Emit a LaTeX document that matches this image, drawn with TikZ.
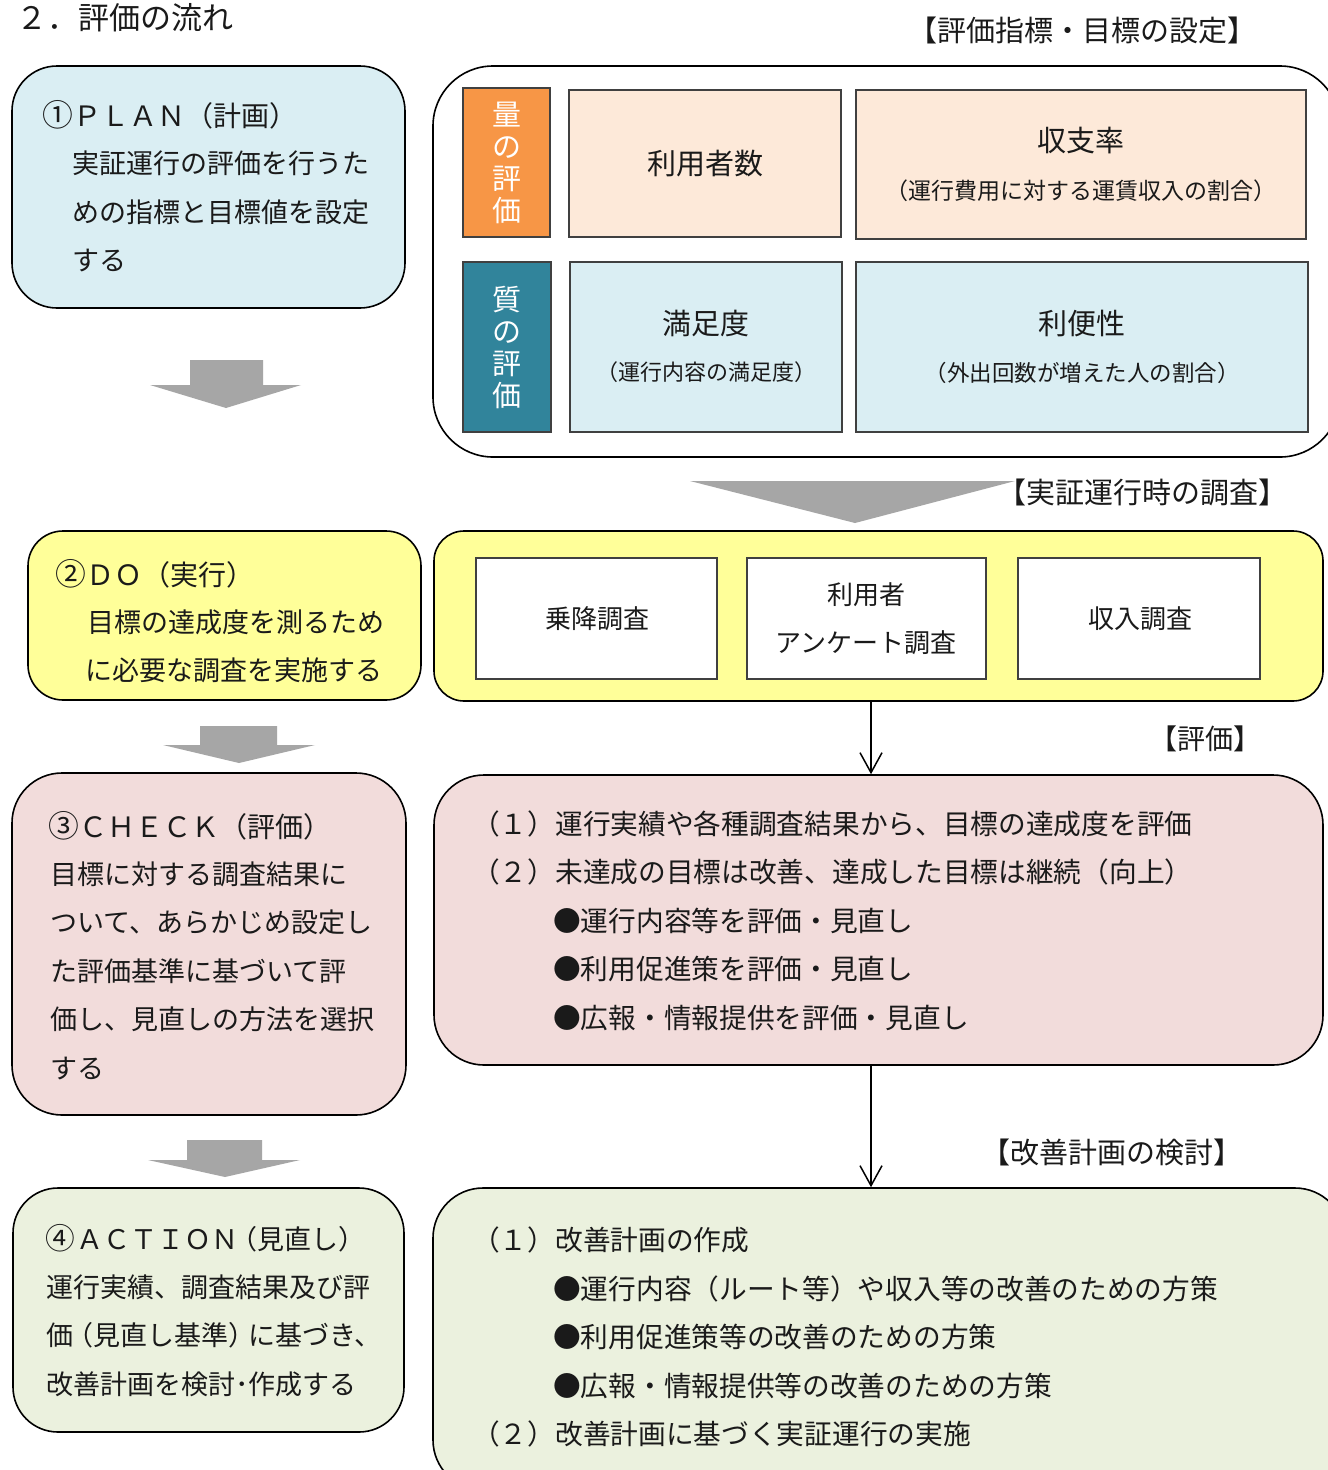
\documentclass[tikz,border=0pt]{standalone}
\usepackage{fontspec}
\usepackage{graphicx}
\setmainfont{Noto Sans CJK JP}
\usetikzlibrary{arrows.meta}
\newcommand\fsz[1]{\fontsize{#1}{#1}\selectfont}
\newcommand\circnum[1]{\makebox[31.5pt][l]{\scalebox{1.1}{#1}}}
\definecolor{cblue}{HTML}{DAEEF3}
\definecolor{cyel}{HTML}{FFFF99}
\definecolor{cpink}{HTML}{F2DCDB}
\definecolor{cgreen}{HTML}{EBF1DE}
\definecolor{cpeach}{HTML}{FDE9D9}
\definecolor{corange}{HTML}{F79646}
\definecolor{cteal}{HTML}{31849B}
\definecolor{cgray}{HTML}{A6A6A6}
\definecolor{ctext}{HTML}{1A1A1A}
\tikzset{
  rbox/.style={draw=black, line width=1.6pt, rounded corners=#1, inner sep=0pt},
  ibox/.style={draw=black!75, line width=1.4pt, inner sep=0pt},
  txt/.style={anchor=base west, inner sep=0pt, text=ctext, font=\fsz{27}},
  ctxt/.style={anchor=base, inner sep=0pt, text=ctext, font=\fsz{26}},
  vtxt/.style={inner sep=0pt, text=white, align=center, font=\fontsize{29}{32}\selectfont},
  blockarrow/.style={fill=cgray, draw=none},
  conn/.style={draw=black, line width=1.5pt, -{Straight Barb[length=20pt,width=22pt]}}
}
\begin{document}
\begin{tikzpicture}[x=1pt,y=-1pt]
\useasboundingbox (0,0) rectangle (1328,1470);
\clip (0,0) rectangle (1328,1470);
\fill[white] (0,0) rectangle (1328,1470);

% title
\node[txt, font=\fsz{31}] (title) at (16,29) {２．評価の流れ};

% PLAN
\node[rbox=45pt, fill=cblue, minimum width=393pt, minimum height=242pt] (plan) at (208.5,187) {};
\node[txt, font=\fsz{28}] (planh) at (42,126) {\circnum{①}ＰＬＡＮ（計画）};
\node[txt] (plan1) at (72,173) {実証運行の評価を行うた};
\node[txt] (plan2) at (72,222) {めの指標と目標値を設定};
\node[txt] (plan3) at (72,270) {する};

% block arrow 1
\fill[blockarrow] (190,360) -- (263,360) -- (263,385) -- (301,385) -- (226,408) -- (150,385) -- (190,385) -- cycle;

% indicator area
\node[ctxt, font=\fsz{29}] (lblset) at (1082,41) {【評価指標・目標の設定】};
\node[rbox=60pt, fill=white, minimum width=907pt, minimum height=391pt] (setbox) at (886.5,261.5) {};
\node[ibox, fill=corange, minimum width=87pt, minimum height=149pt] (ryo) at (506.5,162.5) {};
\node[vtxt] (ryot) at (506.5,162.5) {量\\の\\評\\価};
\node[ibox, fill=cteal, minimum width=88pt, minimum height=170pt] (shitsu) at (507,347) {};
\node[vtxt] (shitsut) at (507,347) {質\\の\\評\\価};
\node[ibox, fill=cpeach, minimum width=272pt, minimum height=147pt] (riyosha) at (705,163.5) {};
\node[ctxt, font=\fsz{29}] (riyoshat) at (705,174) {利用者数};
\node[ibox, fill=cpeach, minimum width=450pt, minimum height=149pt] (shushi) at (1081,164.5) {};
\node[ctxt, font=\fsz{29}] (shushit) at (1081,151) {収支率};
\node[ctxt, font=\fsz{23}] (shushis) at (1081,199) {（運行費用に対する運賃収入の割合）};
\node[ibox, fill=cblue, minimum width=272pt, minimum height=170pt] (manzoku) at (706,347) {};
\node[ctxt, font=\fsz{29}] (manzokut) at (706,334) {満足度};
\node[ctxt, font=\fsz{22}] (manzokus) at (706,380) {（運行内容の満足度）};
\node[ibox, fill=cblue, minimum width=452pt, minimum height=170pt] (benri) at (1082,347) {};
\node[ctxt, font=\fsz{29}] (benrit) at (1082,334) {利便性};
\node[ctxt, font=\fsz{22.5}] (benris) at (1082,381) {（外出回数が増えた人の割合）};

% block arrow 2
\fill[blockarrow] (690,481) -- (1015,481) -- (855,523) -- cycle;
\node[ctxt, font=\fsz{29}] (lblsurvey) at (1142,503) {【実証運行時の調査】};

% DO
\node[rbox=35pt, fill=cyel, minimum width=393pt, minimum height=169pt] (do) at (224.5,615.5) {};
\node[txt, font=\fsz{28}] (doh) at (55,585) {\circnum{②}ＤＯ（実行）};
\node[txt] (do1) at (87,632) {目標の達成度を測るため};
\node[txt] (do2) at (85,680) {に必要な調査を実施する};

\node[rbox=30pt, fill=cyel, minimum width=889pt, minimum height=170pt] (survey) at (878.5,616) {};
\node[ibox, fill=white, minimum width=241pt, minimum height=121pt] (jokou) at (596.5,618.5) {};
\node[ctxt] (jokout) at (597,628) {乗降調査};
\node[ibox, fill=white, minimum width=239pt, minimum height=121pt] (enq) at (866.5,618.5) {};
\node[ctxt] (enqt1) at (866,604) {利用者};
\node[ctxt] (enqt2) at (866,652) {アンケート調査};
\node[ibox, fill=white, minimum width=242pt, minimum height=121pt] (shunyu) at (1139,618.5) {};
\node[ctxt] (shunyut) at (1140,628) {収入調査};

% block arrow 3
\fill[blockarrow] (200,726) -- (277,726) -- (277,745) -- (315,745) -- (239,763) -- (163,745) -- (200,745) -- cycle;

% CHECK
\node[rbox=50pt, fill=cpink, minimum width=394pt, minimum height=342pt] (check) at (209,944) {};
\node[txt, font=\fsz{28}] (checkh) at (48,837) {\circnum{③}ＣＨＥＣＫ（評価）};
\node[txt] (check1) at (50,884) {目標に対する調査結果に};
\node[txt] (check2) at (50,932) {ついて、あらかじめ設定し};
\node[txt] (check3) at (50,981) {た評価基準に基づいて評};
\node[txt] (check4) at (50,1029) {価し、見直しの方法を選択};
\node[txt] (check5) at (50,1078) {する};

\node[rbox=50pt, fill=cpink, minimum width=889pt, minimum height=290pt] (evalbox) at (878.5,920) {};
\node[txt, font=\fsz{27.7}] (ev1) at (472,834) {（１）運行実績や各種調査結果から、目標の達成度を評価};
\node[txt, font=\fsz{27.7}] (ev2) at (472,882) {（２）未達成の目標は改善、達成した目標は継続（向上）};
\node[txt, font=\fsz{27.7}] (ev3) at (553,931) {●運行内容等を評価・見直し};
\node[txt, font=\fsz{27.7}] (ev4) at (553,979) {●利用促進策を評価・見直し};
\node[txt, font=\fsz{27.7}] (ev5) at (553,1028) {●広報・情報提供を評価・見直し};

% block arrow 4
\fill[blockarrow] (187,1140) -- (262,1140) -- (262,1160) -- (300,1160) -- (225,1177) -- (148,1160) -- (187,1160) -- cycle;

% ACTION
\node[rbox=45pt, fill=cgreen, minimum width=391pt, minimum height=244pt] (action) at (208.5,1310) {};
\node[txt, font=\fsz{27}] (actionh) at (45,1249) {\circnum{④}ＡＣＴＩＯＮ\kern-8pt（見直し）};
\node[txt] (action1) at (46,1297) {運行実績、調査結果及び評};
\node[txt] (action2) at (46,1345) {価\kern-7pt（見直し基準）\kern-7pt に基づき、};
\node[txt] (action3) at (46,1394) {改善計画を検討･作成する};

\node[rbox=50pt, fill=cgreen, minimum width=912pt, minimum height=302pt] (impbox) at (889,1339) {};
\node[txt, font=\fsz{27.7}] (im1) at (472,1250) {（１）改善計画の作成};
\node[txt, font=\fsz{27.7}] (im2) at (553,1299) {●運行内容（ルート等）や収入等の改善のための方策};
\node[txt, font=\fsz{27.7}] (im3) at (553,1347) {●利用促進策等の改善のための方策};
\node[txt, font=\fsz{27.7}] (im4) at (553,1396) {●広報・情報提供等の改善のための方策};
\node[txt, font=\fsz{27.7}] (im5) at (472,1444) {（２）改善計画に基づく実証運行の実施};

% connectors
\coordinate (ax) at (871,0);
\draw[conn] (survey.south -| ax) -- (evalbox.north -| ax);
\node[ctxt, font=\fsz{28}] (lbleval) at (1205,749) {【評価】};
\draw[conn] (evalbox.south -| ax) -- (impbox.north -| ax);
\node[ctxt, font=\fsz{29}] (lblimp) at (1112,1163) {【改善計画の検討】};
\end{tikzpicture}
\end{document}
